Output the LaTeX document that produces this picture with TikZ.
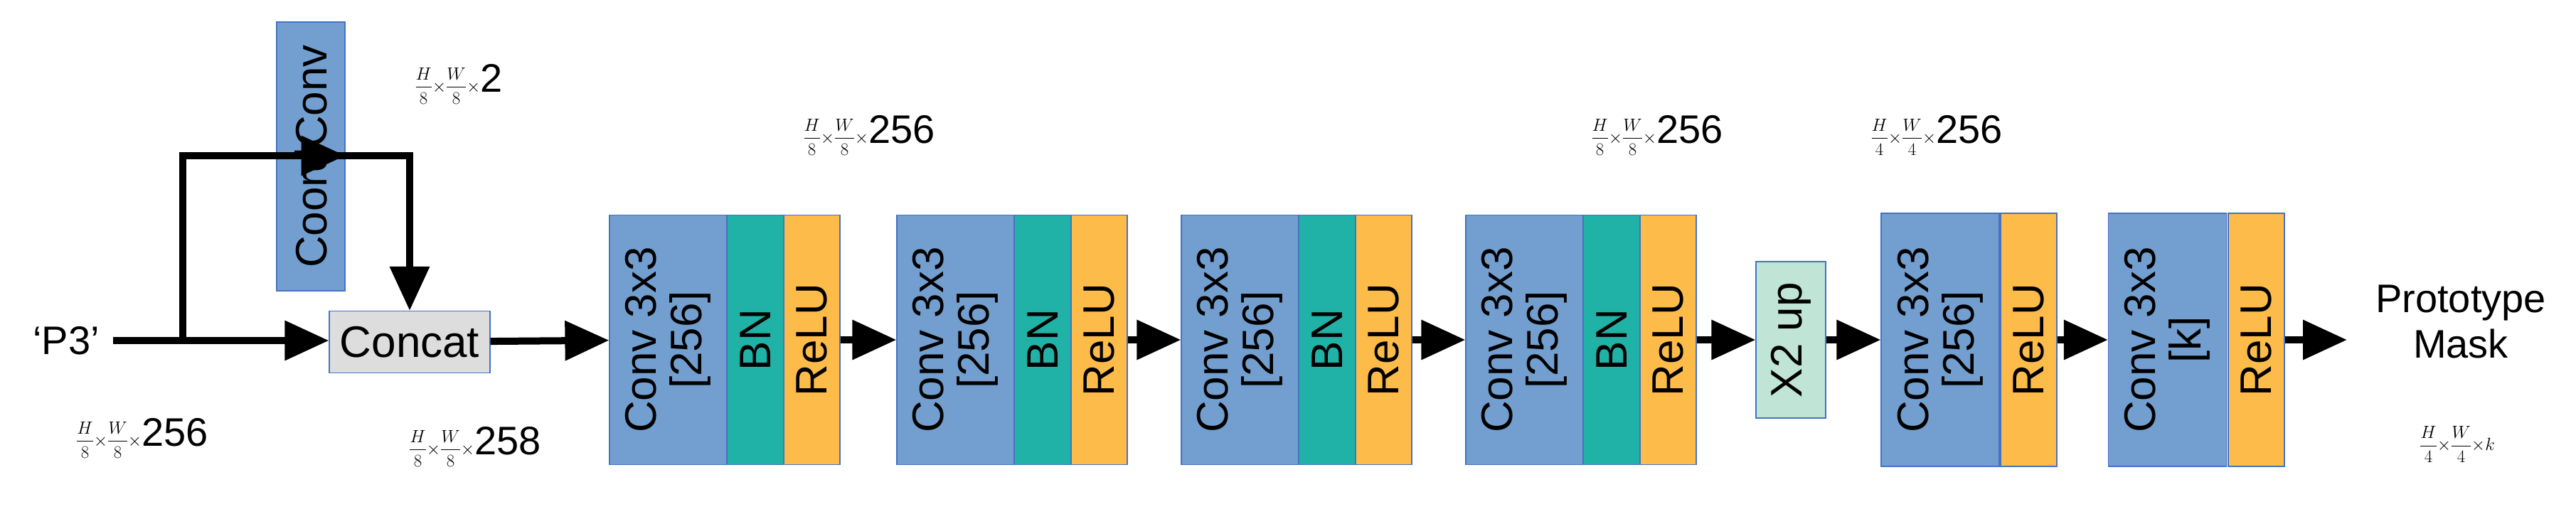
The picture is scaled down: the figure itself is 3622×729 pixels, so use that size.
\documentclass[tikz,border=0pt]{standalone}
\usepackage{amsmath}
\usepackage{fontspec}
\setmainfont{Liberation Sans}
\usetikzlibrary{arrows.meta}
\definecolor{cblue}{RGB}{114,159,207}
\definecolor{cteal}{RGB}{32,178,166}
\definecolor{corange}{RGB}{253,187,74}
\definecolor{cgreen}{RGB}{192,228,214}
\definecolor{cgray}{RGB}{221,221,221}
\definecolor{cborder}{RGB}{68,114,196}
\begin{document}
\begin{tikzpicture}[x=1pt,y=-1pt,
  box/.style={draw=cborder,line width=1.2pt,inner sep=0pt,rectangle,font=\fontsize{62}{68}\selectfont,align=center},
  vbox/.style={box,rotate=90},
  conv/.style={vbox,fill=cblue,minimum width=351pt,minimum height=165pt},
  bn/.style={vbox,fill=cteal,minimum width=351pt,minimum height=80pt},
  relu/.style={vbox,fill=corange,minimum width=351pt,minimum height=79pt},
  arr/.style={line width=10pt,-{Triangle[length=62pt,width=54pt]}},
  lbl/.style={inner sep=0pt,font=\fontsize{56}{60}\selectfont}]
\useasboundingbox (0,0) rectangle (3622,729);
% left part
\node[vbox,fill=cblue,minimum width=378pt,minimum height=96pt] (cc) at (437,220) {CoordConv};
\node[box,fill=cgray,minimum width=226pt,minimum height=87pt] (cat) at (576,481) {Concat};
\node[lbl,anchor=east] (p3) at (140,479) {‘P3’};
\coordinate (ps) at (159,479);
\coordinate (br) at (257,479);
\coordinate (ccin) at (257,219);
\coordinate (ccout) at (576,219);
\draw[line width=10pt] (ps) -- (br);
\draw[arr] (br) -- (cat.west |- br);
\draw[arr] (br) -- (ccin) -- (cc.south |- ccin);
\draw[arr] (cc.north |- ccout) -- (ccout) -- (cat.north);
% blocks
\node[conv] (c1) at (939.5,478) {Conv 3x3\\[-4pt][256]};
\node[bn] (b1) at (1062,478) {BN};
\node[relu] (r1) at (1141.5,478) {ReLU};
\node[conv] (c2) at (1343.5,478) {Conv 3x3\\[-4pt][256]};
\node[bn] (b2) at (1466,478) {BN};
\node[relu] (r2) at (1545.5,478) {ReLU};
\node[conv] (c3) at (1743.5,478) {Conv 3x3\\[-4pt][256]};
\node[bn] (b3) at (1866,478) {BN};
\node[relu] (r3) at (1945.5,478) {ReLU};
\node[conv] (c4) at (2143.5,478) {Conv 3x3\\[-4pt][256]};
\node[bn] (b4) at (2266,478) {BN};
\node[relu] (r4) at (2345.5,478) {ReLU};
\node[vbox,fill=cgreen,minimum width=220pt,minimum height=98pt] (up) at (2518,478) {X2 up};
\node[conv,minimum width=356pt,minimum height=166pt] (c5) at (2728,478) {Conv 3x3\\[-4pt][256]};
\node[relu,minimum width=356pt] (r5) at (2852.5,478) {ReLU};
\node[conv,minimum width=356pt,minimum height=166pt] (c6) at (3047.5,478) {Conv 3x3\\[-4pt][k]};
\node[relu,minimum width=356pt] (r6) at (3172.5,478) {ReLU};
\node[lbl,align=center,font=\fontsize{56}{64}\selectfont] (pm) at (3460,452) {Prototype\\Mask};
\draw[arr] (cat) -- (c1);
\draw[arr] (r1) -- (c2);
\draw[arr] (r2) -- (c3);
\draw[arr] (r3) -- (c4);
\draw[arr] (r4) -- (up);
\draw[arr] (up) -- (c5);
\draw[arr] (r5) -- (c6);
\draw[arr] (r6.south) -- (3300,478);
% dimension labels
\node[lbl] (d1) at (645,118) {$\dfrac{H}{8}{\times}\dfrac{W}{8}{\times}$2};
\node[lbl] (d2) at (200,616) {$\dfrac{H}{8}{\times}\dfrac{W}{8}{\times}$256};
\node[lbl] (d3) at (668,628) {$\dfrac{H}{8}{\times}\dfrac{W}{8}{\times}$258};
\node[lbl] (d4) at (1222,190) {$\dfrac{H}{8}{\times}\dfrac{W}{8}{\times}$256};
\node[lbl] (d5) at (2330,190) {$\dfrac{H}{8}{\times}\dfrac{W}{8}{\times}$256};
\node[lbl] (d6) at (2723,190) {$\dfrac{H}{4}{\times}\dfrac{W}{4}{\times}$256};
\node[lbl] (d7) at (3455,625) {$\dfrac{H}{4}{\times}\dfrac{W}{4}{\times}k$};
\end{tikzpicture}
\end{document}
